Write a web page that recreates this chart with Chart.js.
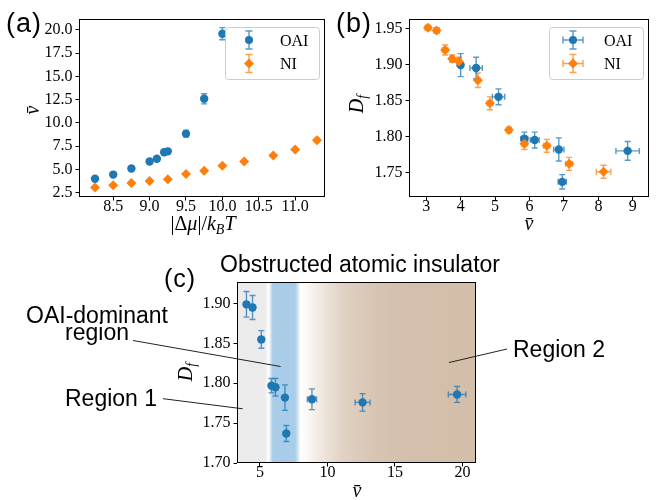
<!DOCTYPE html>
<html>
<head>
<meta charset="utf-8">
<script src="https://cdn.jsdelivr.net/npm/chart.js@4.4.1/dist/chart.umd.min.js"></script>
<style>
  body { margin: 0; background: #fff; width: 657px; height: 500px; position: relative; overflow: hidden; }
  canvas { position: absolute; }
  .lbl { position: absolute; font-family: "Liberation Sans", Arial, sans-serif; color: #000; white-space: nowrap; line-height: 1; }
  .panel { letter-spacing: 1px; }
  .math { position: absolute; font-family: "Liberation Serif", "DejaVu Serif", serif; color: #000; white-space: nowrap; line-height: 1; font-size: 20px; }
  .math i { font-style: italic; }
  .math sub { font-size: 0.7em; vertical-align: -0.3em; line-height: 0; }
  .rot { transform: translate(-50%, -50%) rotate(-90deg); }
  .ctr { transform: translateX(-50%); }
</style>
</head>
<body>
<canvas id="ca" width="330" height="250" style="left:0;top:0"></canvas>
<canvas id="cb" width="327" height="250" style="left:330px;top:0"></canvas>
<canvas id="cc" width="657" height="250" style="left:0;top:250px"></canvas>

<div class="lbl panel" style="left:6px;top:10px;font-size:27px">(a)</div>
<div class="lbl panel" style="left:336px;top:10px;font-size:27px">(b)</div>
<div class="lbl panel" style="left:164px;top:266px;font-size:25px">(c)</div>
<div class="lbl ctr" style="left:360px;top:253px;font-size:23px">Obstructed atomic insulator</div>
<div class="lbl ctr" style="left:97px;top:307px;font-size:23px;line-height:17px;text-align:center">OAI-dominant<br>region</div>
<div class="lbl" style="left:65px;top:387px;font-size:23px">Region 1</div>
<div class="lbl" style="left:513px;top:338px;font-size:23px">Region 2</div>

<div class="math ctr" style="left:203px;top:213px">|Δ<i>μ</i>|/<i>k</i><sub><i>B</i></sub><i>T</i></div>
<div class="math rot" style="left:32px;top:110px"><i>v̄</i></div>
<div class="math ctr" style="left:529px;top:213px"><i>v̄</i></div>
<div class="math rot" style="left:356px;top:104px"><i>D</i><sub><i>f</i></sub></div>
<div class="math ctr" style="left:357px;top:480px"><i>v̄</i></div>
<div class="math rot" style="left:185px;top:372px"><i>D</i><sub><i>f</i></sub></div>

<script>
// OAI runs
const oaiMu = [8.25, 8.5, 8.75, 9.0, 9.1, 9.2, 9.25, 9.5, 9.75, 10.0];
const oaiV = [4.0, 4.45, 5.1, 5.85, 6.15, 6.85, 6.95, 8.85, 12.6, 19.6];
const oaiVErr = [0.05, 0.18, 0.18, 0.1, 0.13, 0.15, 0.12, 0.34, 0.55, 0.65];
const oaiDf = [1.899, 1.895, 1.855, 1.797, 1.795, 1.782, 1.737, 1.780, 1.776, 1.786];
const oaiDfErr = [0.016, 0.015, 0.011, 0.009, 0.011, 0.016, 0.010, 0.013, 0.011, 0.010];

// NI runs
const niMu = [8.25, 8.5, 8.75, 9.0, 9.25, 9.5, 9.75, 10.0, 10.3, 10.7, 11.0, 11.3];
const niV = [3.05, 3.3, 3.55, 3.75, 3.95, 4.5, 4.85, 5.4, 5.85, 6.5, 7.15, 8.15];
const niVErr = [0.08, 0.08, 0.08, 0.06, 0.06, 0.06, 0.08, 0.06, 0.07, 0.09, 0.1, 0.21];
const niDf = [1.951, 1.947, 1.920, 1.908, 1.904, 1.878, 1.846, 1.809, 1.790, 1.787, 1.762, 1.751];
const niDfErr = [0.003, 0.004, 0.007, 0.005, 0.006, 0.010, 0.009, 0.004, 0.008, 0.009, 0.009, 0.009];

// ticks
const aTicksX = [8.5, 9.0, 9.5, 10.0, 10.5, 11.0];
const aTicksY = [2.5, 5.0, 7.5, 10.0, 12.5, 15.0, 17.5, 20.0];
const bTicksX = [3, 4, 5, 6, 7, 8, 9];
const bTicksY = [1.75, 1.80, 1.85, 1.90, 1.95];
const cTicksX = [5, 10, 15, 20];
const cTicksY = [1.70, 1.75, 1.80, 1.85, 1.90];

const seriesNames = ['OAI', 'NI'];

const BLUE = '#1f77b4', ORANGE = '#ff7f0e';
const BLUE_E = 'rgba(31,119,180,0.75)', ORANGE_E = 'rgba(255,127,14,0.75)';
const SERIF = '"Liberation Serif", "DejaVu Serif", serif';

const pts = (xs, ys) => xs.map((v, i) => ({ x: v, y: ys[i] }));

function drawBar(ctx, x0, y0, x1, y1, cap, vertical) {
  ctx.beginPath();
  ctx.moveTo(x0, y0); ctx.lineTo(x1, y1);
  if (vertical) {
    ctx.moveTo(x0 - cap, y0); ctx.lineTo(x0 + cap, y0);
    ctx.moveTo(x1 - cap, y1); ctx.lineTo(x1 + cap, y1);
  } else {
    ctx.moveTo(x0, y0 - cap); ctx.lineTo(x0, y0 + cap);
    ctx.moveTo(x1, y1 - cap); ctx.lineTo(x1, y1 + cap);
  }
  ctx.stroke();
}

// error bars under the markers
const errorBars = {
  id: 'errorBars',
  beforeDatasetsDraw(chart) {
    const { ctx, chartArea: a, scales: { x, y } } = chart;
    ctx.save();
    ctx.beginPath(); ctx.rect(a.left, a.top, a.width, a.height); ctx.clip();
    chart.data.datasets.slice().reverse().forEach(ds => {
      ctx.strokeStyle = ds.errColor;
      ctx.lineWidth = 1.4;
      ds.data.forEach((p, i) => {
        const px = x.getPixelForValue(p.x), py = y.getPixelForValue(p.y);
        if (ds.yErr) {
          const e = ds.yErr[i];
          drawBar(ctx, px, y.getPixelForValue(p.y - e), px, y.getPixelForValue(p.y + e), 3, true);
        }
        if (ds.xErr) {
          const e = ds.xErr[i];
          drawBar(ctx, x.getPixelForValue(p.x - e), py, x.getPixelForValue(p.x + e), py, 3, false);
        }
      });
    });
    ctx.restore();
  }
};

// box round the axes
const frame = {
  id: 'frame',
  afterDatasetsDraw(chart) {
    const { ctx, chartArea: a } = chart;
    ctx.save();
    ctx.strokeStyle = '#000'; ctx.lineWidth = 1;
    ctx.strokeRect(Math.round(a.left) + 0.5, Math.round(a.top) + 0.5,
                   Math.round(a.width) - 1, Math.round(a.height) - 1);
    ctx.restore();
  }
};

// legend box in the upper right, with error-bar glyphs
const errLegend = {
  id: 'errLegend',
  afterDraw(chart, args, opts) {
    if (!opts.show) return;
    const { ctx, chartArea: a } = chart;
    const w = 94, h = 52;
    const left = a.right - 6 - w, top = a.top + 8;
    ctx.save();
    ctx.beginPath();
    ctx.roundRect(left + 0.5, top + 0.5, w, h, 3);
    ctx.fillStyle = 'rgba(255,255,255,0.85)'; ctx.fill();
    ctx.strokeStyle = '#cccccc'; ctx.lineWidth = 1; ctx.stroke();
    chart.data.datasets.forEach((ds, k) => {
      const cx = left + 24, cy = top + 13 + k * 23.5;
      ctx.strokeStyle = ds.errColor; ctx.lineWidth = 1.4;
      drawBar(ctx, cx, cy - 9, cx, cy + 9, 3.5, true);
      if (opts.xBars) drawBar(ctx, cx - 10, cy, cx + 10, cy, 3.5, false);
      ctx.fillStyle = ds.backgroundColor;
      ctx.beginPath();
      if (ds.pointStyle === 'circle') {
        ctx.arc(cx, cy, 4, 0, Math.PI * 2);
      } else {
        ctx.moveTo(cx, cy - 5); ctx.lineTo(cx + 5, cy); ctx.lineTo(cx, cy + 5); ctx.lineTo(cx - 5, cy);
        ctx.closePath();
      }
      ctx.fill();
      ctx.fillStyle = '#000';
      ctx.font = '16px ' + SERIF;
      ctx.textBaseline = 'alphabetic';
      ctx.fillText(ds.label, left + 55, cy + 5.5);
    });
    ctx.restore();
  }
};

// shaded regions of panel (c)
const regionStops = [
  [3.3, '#ebebeb'], [5.35, '#ebebeb'], [5.66, '#ffffff'], [5.8, '#d2e5f3'], [5.95, '#a9cde8'],
  [7.6, '#a9cde8'], [7.82, '#d2e5f3'], [7.98, '#ffffff'], [8.3, '#fdfbf9'], [9.4, '#f1e9e2'],
  [11.0, '#e2d3c6'], [12.9, '#d9c7b7'], [15.0, '#d4c0ad'], [21.0, '#d3bea9']
];
const regions = {
  id: 'regions',
  beforeDatasetsDraw(chart) {
    const { ctx, chartArea: a, scales: { x } } = chart;
    const g = ctx.createLinearGradient(a.left, 0, a.right, 0);
    regionStops.forEach(([v, c]) => {
      const f = Math.min(1, Math.max(0, (x.getPixelForValue(v) - a.left) / a.width));
      g.addColorStop(f, c);
    });
    ctx.save();
    ctx.fillStyle = g;
    ctx.fillRect(a.left, a.top, a.width, a.height);
    ctx.restore();
  }
};

// pointer lines from the labels into panel (c)
const pointerLines = {
  id: 'pointerLines',
  afterDraw(chart) {
    const { ctx, scales: { x, y } } = chart;
    const lines = [
      [133, 90.5, 6.53, 1.821],
      [163, 148.7, 3.72, 1.768],
      [507, 99, 19.0, 1.826]
    ];
    ctx.save();
    ctx.strokeStyle = '#222'; ctx.lineWidth = 1;
    lines.forEach(([sx, sy, vx, vy]) => {
      ctx.beginPath();
      ctx.moveTo(sx, sy);
      ctx.lineTo(x.getPixelForValue(vx), y.getPixelForValue(vy));
      ctx.stroke();
    });
    ctx.restore();
  }
};

function axis(ticks, min, max, digits, fit, pad) {
  return {
    type: 'linear', min, max,
    afterBuildTicks: s => { s.ticks = ticks.map(v => ({ value: v })); },
    afterFit: fit,
    ticks: {
      callback: v => Number(v).toFixed(digits),
      color: '#000', font: { family: SERIF, size: 16 },
      padding: pad, maxRotation: 0, autoSkip: false
    },
    grid: { drawOnChartArea: false, drawTicks: true, tickLength: 3.5, color: '#000', lineWidth: 1 },
    border: { display: false }
  };
}

function oaiSet(data, xErr, yErr) {
  return { label: seriesNames[0], data, xErr, yErr, order: 1, pointStyle: 'circle', pointRadius: 4.2,
           backgroundColor: BLUE, borderColor: BLUE, borderWidth: 0, errColor: BLUE_E };
}
function niSet(data, xErr, yErr) {
  return { label: seriesNames[1], data, xErr, yErr, order: 0, pointStyle: 'rectRot', pointRadius: 5,
           backgroundColor: ORANGE, borderColor: ORANGE, borderWidth: 0, errColor: ORANGE_E };
}

function makeChart(id, datasets, scales, padding, legendOpts, extra) {
  return new Chart(document.getElementById(id), {
    type: 'scatter',
    data: { datasets },
    options: {
      responsive: false, animation: false, events: [],
      layout: { padding },
      scales,
      plugins: { legend: { display: false }, tooltip: { enabled: false }, errLegend: legendOpts }
    },
    plugins: [...extra, errorBars, frame, errLegend]
  });
}

// (a)
makeChart('ca',
  [oaiSet(pts(oaiMu, oaiV), null, oaiVErr), niSet(pts(niMu, niV), null, niVErr)],
  {
    x: axis(aTicksX, 8.03, 11.41, 1, s => { s.height = 53; }, -3),
    y: axis(aTicksY, 2.04, 21.18, 1, s => { s.width = 79; }, 3)
  },
  { top: 19, right: 5, left: 0, bottom: 0 },
  { show: true, xBars: false }, []);

// (b)
makeChart('cb',
  [oaiSet(pts(oaiV, oaiDf), oaiVErr, oaiDfErr), niSet(pts(niV, niDf), niVErr, niDfErr)],
  {
    x: axis(bTicksX, 2.5, 9.47, 0, s => { s.height = 53; }, -3),
    y: axis(bTicksY, 1.716, 1.963, 2, s => { s.width = 79; }, 3)
  },
  { top: 19, right: 8, left: 0, bottom: 0 },
  { show: true, xBars: true }, []);

// (c)
makeChart('cc',
  [oaiSet(pts(oaiV, oaiDf), oaiVErr, oaiDfErr)],
  {
    x: axis(cTicksX, 3.3, 21.0, 0, s => { s.height = 37; }, -3),
    y: axis(cTicksY, 1.70, 1.927, 2, s => { s.width = 237; }, 3)
  },
  { top: 32, right: 181, left: 0, bottom: 0 },
  { show: false }, [regions, pointerLines]);
</script>
</body>
</html>
